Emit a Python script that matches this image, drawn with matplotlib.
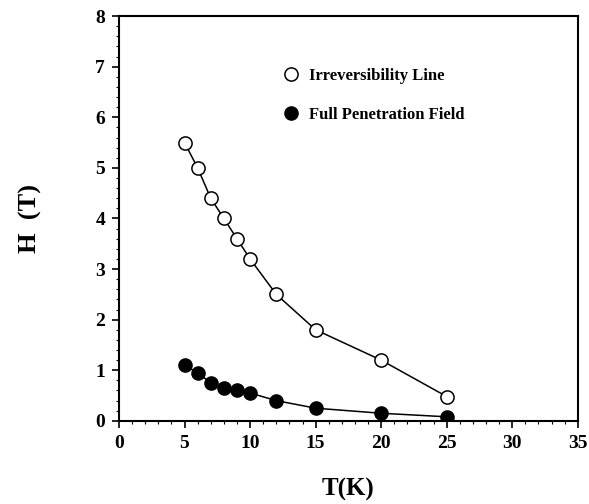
import numpy as np
import matplotlib
matplotlib.use('Agg')
import matplotlib.pyplot as plt
from matplotlib.ticker import MultipleLocator

# 数据
T_irr = [5, 6, 7, 8, 9, 10, 12, 15, 20, 25]
H_irr = [5.5, 5.0, 4.4, 4.0, 3.6, 3.2, 2.5, 1.8, 1.2, 0.48]
T_pen = [5, 6, 7, 8, 9, 10, 12, 15, 20, 25]
H_pen = [1.1, 0.95, 0.75, 0.65, 0.6, 0.55, 0.4, 0.25, 0.15, 0.08]
x_ticks = [0, 5, 10, 15, 20, 25, 30, 35]
y_ticks = [0, 1, 2, 3, 4, 5, 6, 7, 8]

plt.rcParams['font.family'] = ['Liberation Serif', 'DejaVu Serif']
plt.rcParams['font.weight'] = 'bold'

fig = plt.figure(figsize=(5.89, 5.04), dpi=100)
ax = fig.add_axes([0.202, 0.165, 0.779, 0.803])

ax.plot(T_irr, H_irr, '-', color='black', lw=1.1, zorder=1)
ax.plot(T_pen, H_pen, '-', color='black', lw=1.1, zorder=1)
ax.plot(T_irr, H_irr, 'o', mfc='white', mec='black', mew=1.1, ms=9.5,
        ls='none', label='Irreversibility Line', zorder=2)
ax.plot(T_pen, H_pen, 'o', mfc='black', mec='black', ms=9.5,
        ls='none', label='Full Penetration Field', zorder=2)

ax.set_xlim(0, 35)
ax.set_ylim(0, 8)
ax.set_xticks(x_ticks)
ax.set_yticks(y_ticks)
ax.xaxis.set_minor_locator(MultipleLocator(1))
ax.yaxis.set_minor_locator(MultipleLocator(0.2))
ax.tick_params(which='major', direction='out', length=5, width=1.2,
               labelsize=14, pad=5)
ax.tick_params(which='minor', direction='out', length=2.5, width=0.8)
for s in ax.spines.values():
    s.set_linewidth(1.5)

ax.set_xlabel('T(K)', fontsize=18, fontweight='bold', labelpad=19)
ax.set_ylabel('H  (T)', fontsize=19, fontweight='bold', labelpad=38)

ax.legend(loc='upper left', bbox_to_anchor=(0.32, 0.91), frameon=False,
          fontsize=12, handletextpad=0.5, labelspacing=1.4,
          handlelength=1.2, numpoints=1, markerscale=1.0)

fig.savefig('out.png', dpi=100)
